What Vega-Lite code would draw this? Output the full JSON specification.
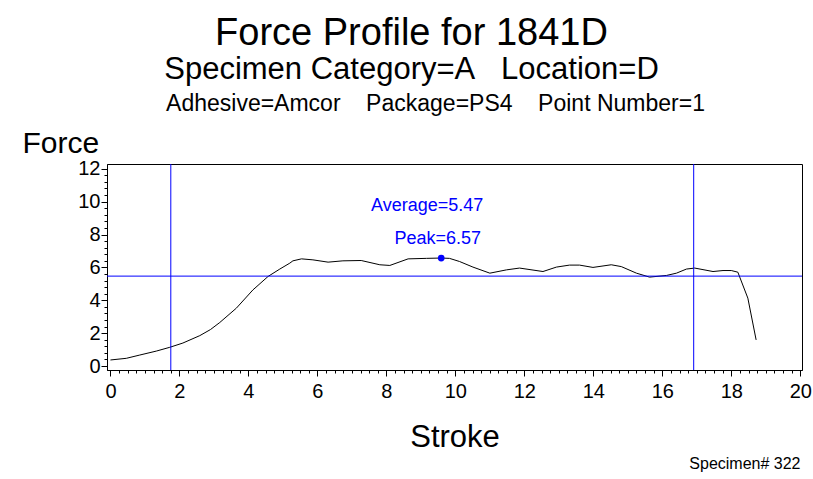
{
  "$schema": "https://vega.github.io/schema/vega-lite/v6.json",
  "width": 695,
  "height": 206,
  "autosize": {"type": "none"},
  "padding": {"left": 107, "top": 164, "right": 11, "bottom": 109},
  "background": "white",
  "config": {
    "font": "Liberation Sans",
    "view": {"stroke": "black", "strokeWidth": 1},
    "axis": {"grid": false, "domainColor": "black", "tickColor": "black", "labelColor": "black", "titleColor": "black", "titleFontWeight": "normal", "labelFont": "Liberation Sans", "titleFont": "Liberation Sans"}
  },
  "title": {
    "text": "Force Profile for 1841D",
    "subtitle": "Specimen Category=A\u00a0\u00a0\u00a0Location=D",
    "fontSize": 38,
    "fontWeight": "normal",
    "subtitleFontSize": 31,
    "color": "black",
    "subtitleColor": "black",
    "anchor": "middle",
    "frame": "group",
    "dx": -43,
    "offset": 7,
    "subtitlePadding": 2,
    "font": "Liberation Sans",
    "subtitleFont": "Liberation Sans"
  },
  "datasets": {
    "curve": [
      {"stroke": 0, "force": 0.37},
      {"stroke": 0.46, "force": 0.47},
      {"stroke": 0.85, "force": 0.67},
      {"stroke": 1.33, "force": 0.91},
      {"stroke": 1.72, "force": 1.14},
      {"stroke": 2.10, "force": 1.40},
      {"stroke": 2.59, "force": 1.85},
      {"stroke": 2.90, "force": 2.22},
      {"stroke": 3.17, "force": 2.65},
      {"stroke": 3.65, "force": 3.52},
      {"stroke": 4.13, "force": 4.63},
      {"stroke": 4.57, "force": 5.45},
      {"stroke": 4.91, "force": 5.90},
      {"stroke": 5.20, "force": 6.26},
      {"stroke": 5.29, "force": 6.40},
      {"stroke": 5.54, "force": 6.52},
      {"stroke": 5.87, "force": 6.46},
      {"stroke": 6.31, "force": 6.32},
      {"stroke": 6.74, "force": 6.40},
      {"stroke": 7.27, "force": 6.42},
      {"stroke": 7.81, "force": 6.16},
      {"stroke": 8.10, "force": 6.12},
      {"stroke": 8.63, "force": 6.52},
      {"stroke": 9.16, "force": 6.55},
      {"stroke": 9.59, "force": 6.57},
      {"stroke": 9.83, "force": 6.55},
      {"stroke": 10.12, "force": 6.36},
      {"stroke": 10.51, "force": 6.02},
      {"stroke": 11.0, "force": 5.65},
      {"stroke": 11.48, "force": 5.85},
      {"stroke": 11.86, "force": 5.96},
      {"stroke": 12.54, "force": 5.75},
      {"stroke": 12.93, "force": 6.02},
      {"stroke": 13.31, "force": 6.14},
      {"stroke": 13.60, "force": 6.14},
      {"stroke": 13.99, "force": 6.0},
      {"stroke": 14.52, "force": 6.16},
      {"stroke": 14.81, "force": 6.05},
      {"stroke": 15.25, "force": 5.65},
      {"stroke": 15.63, "force": 5.41},
      {"stroke": 16.12, "force": 5.51},
      {"stroke": 16.41, "force": 5.65},
      {"stroke": 16.70, "force": 5.90},
      {"stroke": 16.94, "force": 5.96},
      {"stroke": 17.47, "force": 5.75},
      {"stroke": 17.76, "force": 5.81},
      {"stroke": 18.0, "force": 5.81},
      {"stroke": 18.19, "force": 5.71},
      {"stroke": 18.48, "force": 4.13},
      {"stroke": 18.72, "force": 1.59}
    ],
    "vlines": [{"stroke": 1.75}, {"stroke": 16.91}],
    "avg": [{"force": 5.47}],
    "peak": [{"stroke": 9.59, "force": 6.57, "peakLabel": "Peak=6.57", "avgLabel": "Average=5.47"}]
  },
  "layer": [
    {
      "data": {"name": "curve"},
      "mark": {"type": "line", "color": "black", "strokeWidth": 1, "interpolate": "linear"},
      "encoding": {
        "x": {
          "field": "stroke", "type": "quantitative",
          "scale": {"domain": [-0.1, 20.05], "nice": false, "zero": false},
          "axis": {
            "title": "Stroke",
            "values": [0,0.25,0.5,0.75,1,1.25,1.5,1.75,2,2.25,2.5,2.75,3,3.25,3.5,3.75,4,4.25,4.5,4.75,5,5.25,5.5,5.75,6,6.25,6.5,6.75,7,7.25,7.5,7.75,8,8.25,8.5,8.75,9,9.25,9.5,9.75,10,10.25,10.5,10.75,11,11.25,11.5,11.75,12,12.25,12.5,12.75,13,13.25,13.5,13.75,14,14.25,14.5,14.75,15,15.25,15.5,15.75,16,16.25,16.5,16.75,17,17.25,17.5,17.75,18,18.25,18.5,18.75,19,19.25,19.5,19.75,20],
            "format": "~g",
            "labelExpr": "abs(datum.value - round(datum.value/2)*2) < 0.001 ? datum.label : ''",
            "tickSize": {"condition": {"test": "abs(datum.value - round(datum.value/2)*2) < 0.001", "value": 6}, "value": 3},
            "labelFontSize": 20,
            "labelOverlap": false,
            "labelFlush": false,
            "labelBound": false,
            "labelPadding": 5,
            "titleFontSize": 31,
            "titleBaseline": "alphabetic",
            "titleY": 76
          }
        },
        "y": {
          "field": "force", "type": "quantitative",
          "scale": {"domain": [-0.24, 12.29], "nice": false, "zero": false},
          "axis": {
            "title": "Force",
            "values": [0,0.4,0.8,1.2,1.6,2,2.4,2.8,3.2,3.6,4,4.4,4.8,5.2,5.6,6,6.4,6.8,7.2,7.6,8,8.4,8.8,9.2,9.6,10,10.4,10.8,11.2,11.6,12],
            "format": "~g",
            "labelExpr": "abs(datum.value - round(datum.value/2)*2) < 0.001 ? datum.label : ''",
            "tickSize": {"condition": {"test": "abs(datum.value - round(datum.value/2)*2) < 0.001", "value": 6}, "value": 3},
            "labelFontSize": 20,
            "labelOverlap": false,
            "labelFlush": false,
            "labelBound": false,
            "labelPadding": 1,
            "titleFontSize": 30,
            "titleAngle": 0,
            "titleAlign": "left",
            "titleBaseline": "alphabetic",
            "titleX": -85,
            "titleY": -12
          }
        }
      }
    },
    {
      "data": {"name": "vlines"},
      "mark": {"type": "rule", "color": "#0000ff", "strokeWidth": 1},
      "encoding": {
        "x": {
          "field": "stroke", "type": "quantitative",
          "axis": {
            "orient": "top",
            "title": "Adhesive=Amcor\u00a0\u00a0\u00a0\u00a0Package=PS4\u00a0\u00a0\u00a0\u00a0Point Number=1",
            "domain": false, "ticks": false, "labels": false,
            "titleFontSize": 23,
            "titleAlign": "center",
            "titleBaseline": "alphabetic",
            "titleX": 328,
            "titleY": -54
          }
        }
      }
    },
    {
      "data": {"name": "avg"},
      "mark": {"type": "rule", "color": "#0000ff", "strokeWidth": 1},
      "encoding": {
        "y": {
          "field": "force", "type": "quantitative",
          "axis": {
            "orient": "right",
            "title": "Specimen# 322",
            "domain": false, "ticks": false, "labels": false,
            "titleFontSize": 16,
            "titleAngle": 0,
            "titleAlign": "right",
            "titleBaseline": "alphabetic",
            "titleX": -2,
            "titleY": 304
          }
        }
      }
    },
    {
      "data": {"name": "peak"},
      "mark": {"type": "point", "filled": true, "color": "#0000ff", "size": 45, "opacity": 1},
      "encoding": {
        "x": {"field": "stroke", "type": "quantitative", "axis": null},
        "y": {"field": "force", "type": "quantitative", "axis": null}
      }
    },
    {
      "data": {"name": "peak"},
      "mark": {"type": "text", "color": "#0000ff", "fontSize": 18, "dx": -3.5, "dy": -19, "baseline": "middle", "align": "center"},
      "encoding": {
        "x": {"field": "stroke", "type": "quantitative", "axis": null},
        "y": {"field": "force", "type": "quantitative", "axis": null},
        "text": {"field": "peakLabel"}
      }
    },
    {
      "data": {"name": "peak"},
      "mark": {"type": "text", "color": "#0000ff", "fontSize": 18, "dx": -14, "dy": -52, "baseline": "middle", "align": "center"},
      "encoding": {
        "x": {"field": "stroke", "type": "quantitative", "axis": null},
        "y": {"field": "force", "type": "quantitative", "axis": null},
        "text": {"field": "avgLabel"}
      }
    }
  ],
  "resolve": {"axis": {"x": "independent", "y": "independent"}}
}
